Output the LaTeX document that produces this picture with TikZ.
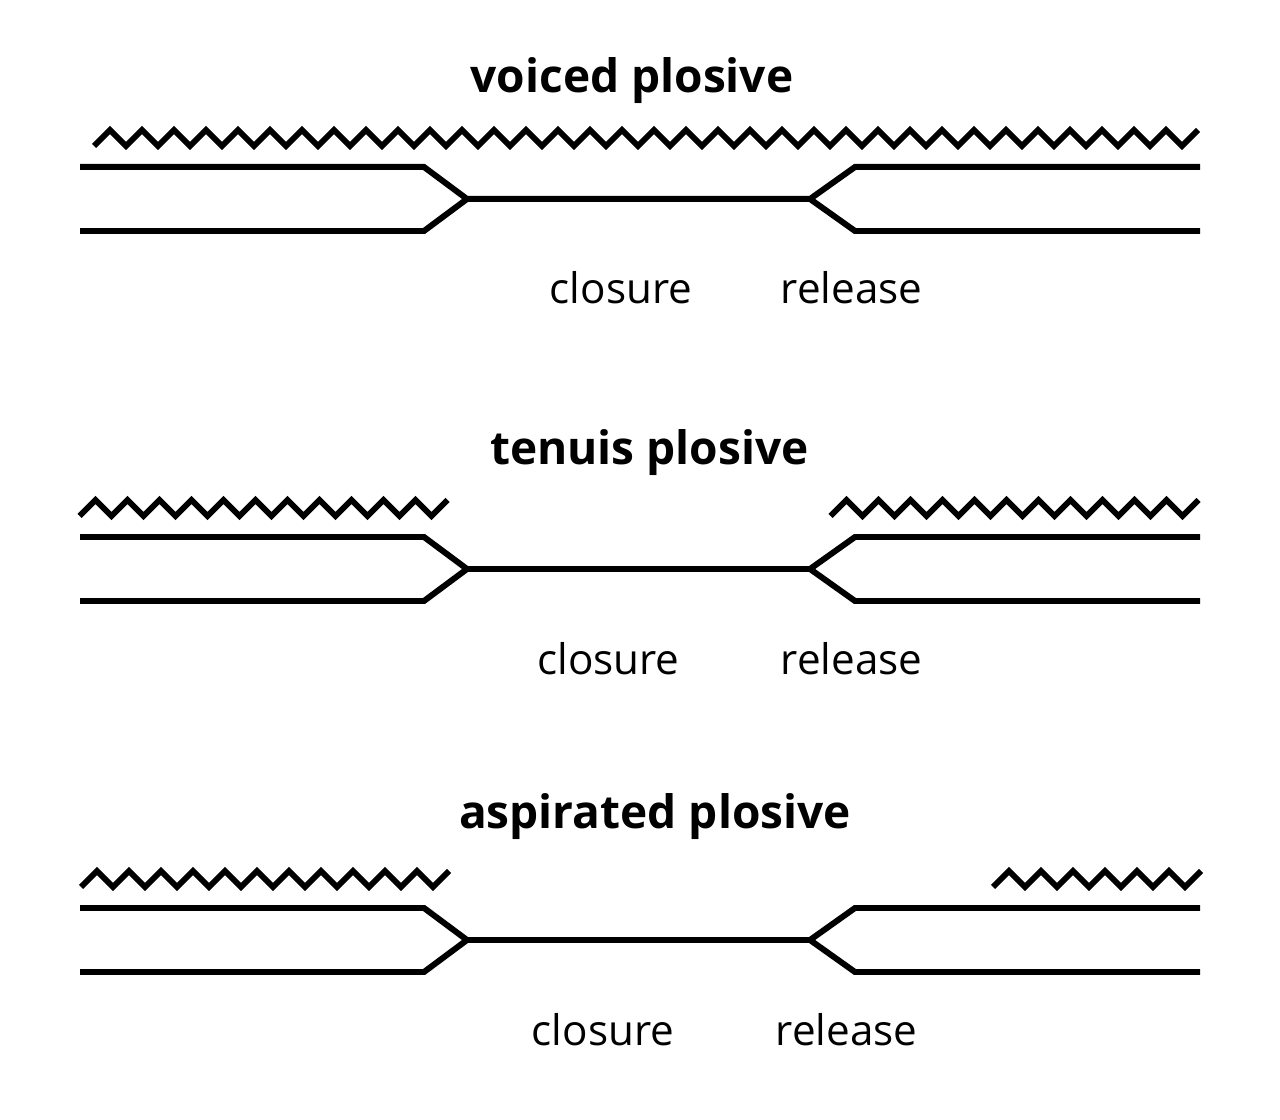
\documentclass[tikz,border=0pt]{standalone}
\usepackage{fontspec}
\setmainfont{Open Sans}
\usepackage{tikz}
\usetikzlibrary{positioning}

% vocal tract: two lines that close into one and open again
\newcommand{\tractlines}[1]{%
  \draw[tract] (1.6,#1+0.64) -- (8.48,#1+0.64) -- (9.34,#1) -- (16.2,#1) -- (17.1,#1+0.64) -- (24,#1+0.64);
  \draw[tract] (1.6,#1-0.64) -- (8.48,#1-0.64) -- (9.34,#1);
  \draw[tract] (16.2,#1) -- (17.1,#1-0.64) -- (24,#1-0.64);
}
% voicing: zigzag from a trough, #3 half periods
\newcommand{\voicing}[3]{%
  \draw[voice] (#1,#2) \foreach \k in {1,...,#3} { -- ({#1+0.32*\k},{#2+0.32*mod(\k,2)}) };
}

\begin{document}
\begin{tikzpicture}[
    tract/.style={line width=3.4pt, black},
    voice/.style={line width=3.3pt, black, miter limit=10},
    heading/.style={font=\fontsize{26.2}{32}\selectfont\bfseries, anchor=base},
    phase/.style={font=\fontsize{24}{29}\selectfont, anchor=base}
  ]
  \useasboundingbox (0,0) rectangle (25.6,22.4);

  % ===== voiced plosive =====
  \node[heading] (tvoiced) at (12.64, 20.55) {voiced plosive};
  \voicing{1.88}{19.48}{69}
  \tractlines{18.42}
  \node[phase] (cvoiced) at (12.42, 16.32) {closure};
  \node[phase] (rvoiced) at (17.03, 16.32) {release};

  % ===== tenuis plosive =====
  \node[heading] (ttenuis) at (12.99, 13.10) {tenuis plosive};
  \voicing{1.59}{12.08}{23}
  \voicing{16.61}{12.08}{23}
  \tractlines{11.02}
  \node[phase] (ctenuis) at (12.17, 8.90) {closure};
  \node[phase] (rtenuis) at (17.03, 8.90) {release};

  % ===== aspirated plosive =====
  \node[heading] (taspirated) at (13.10, 5.82) {aspirated plosive};
  \voicing{1.62}{4.66}{23}
  \voicing{19.86}{4.66}{13}
  \tractlines{3.6}
  \node[phase] (caspirated) at (12.06, 1.48) {closure};
  \node[phase] (raspirated) at (16.93, 1.48) {release};
\end{tikzpicture}
\end{document}
